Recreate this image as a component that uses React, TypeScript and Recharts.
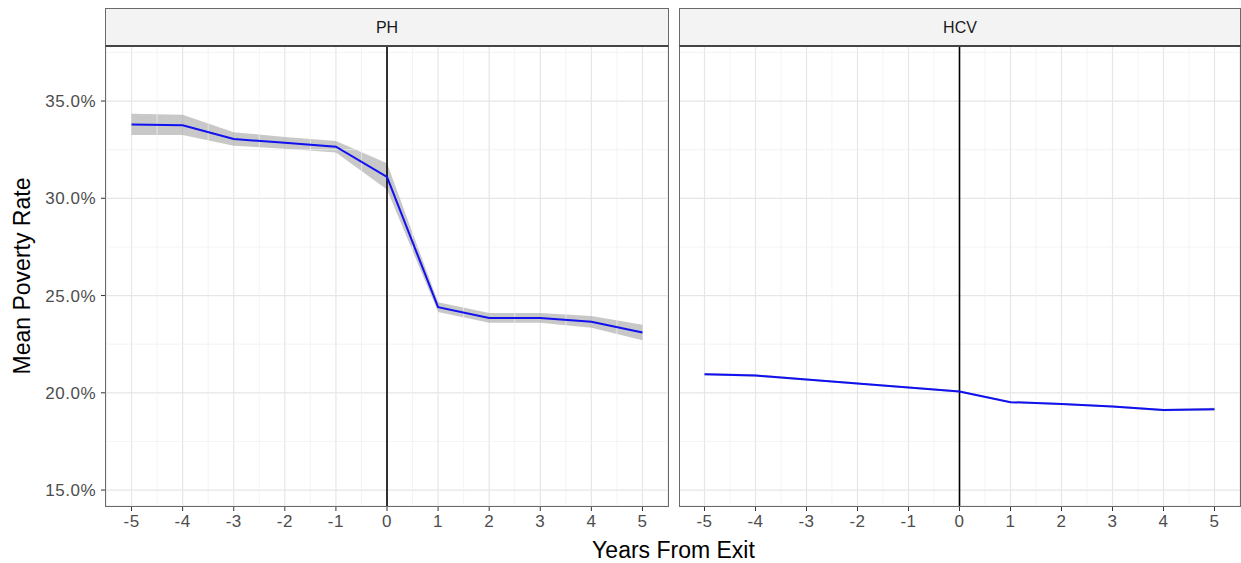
import React from "react";
import {
  ComposedChart,
  Area,
  Line,
  XAxis,
  YAxis,
  CartesianGrid,
  ReferenceLine,
} from "recharts";

const years = [-5, -4, -3, -2, -1, 0, 1, 2, 3, 4, 5];

const phMean = [33.8, 33.75, 33.05, 32.85, 32.65, 31.1, 24.4, 23.85, 23.85, 23.65, 23.1];
const phLower = [33.25, 33.25, 32.7, 32.55, 32.35, 30.45, 24.15, 23.6, 23.6, 23.35, 22.7];
const phUpper = [34.35, 34.3, 33.4, 33.15, 32.95, 31.8, 24.65, 24.1, 24.1, 23.95, 23.5];

const hcvMean = [20.96, 20.89, 20.68, 20.48, 20.27, 20.07, 19.52, 19.42, 19.3, 19.11, 19.16];
const hcvLower = [20.9, 20.83, 20.63, 20.43, 20.22, 20.02, 19.47, 19.37, 19.25, 19.05, 19.09];
const hcvUpper = [21.02, 20.95, 20.73, 20.53, 20.32, 20.12, 19.57, 19.47, 19.35, 19.17, 19.23];

const yTicks = [15, 20, 25, 30, 35];
const xMinor = [-4.5, -3.5, -2.5, -1.5, -0.5, 0.5, 1.5, 2.5, 3.5, 4.5];
const yMinor = [17.5, 22.5, 27.5, 32.5, 37.5];

const panels = ["PH", "HCV"];

const FONT = "'Liberation Sans', Arial, Helvetica, sans-serif";
const TOP = 46;
const CHART_H = 517;
const X_AXIS_H = 57;

function buildRows(mean: number[], lower: number[], upper: number[]) {
  return years.map((x, i) => ({ x, mean: mean[i], band: [lower[i], upper[i]] }));
}

const phRows = buildRows(phMean, phLower, phUpper);
const hcvRows = buildRows(hcvMean, hcvLower, hcvUpper);

const tickStyle = { fill: "#4d4d4d", fontSize: 17, letterSpacing: 0.5 };

function Panel({
  rows,
  showY,
  left,
  width,
}: {
  rows: any[];
  showY: boolean;
  left: number;
  width: number;
}) {
  const yW = showY ? 106 : 0;
  return (
    <div style={{ position: "absolute", left, top: TOP }}>
      <ComposedChart
        width={width}
        height={CHART_H}
        data={rows}
        margin={{ top: 0, right: 0, left: 0, bottom: 0 }}
      >
        <CartesianGrid stroke="#e6e6e6" strokeWidth={1.2} />
        {xMinor.map((v) => (
          <ReferenceLine key={"xm" + v} x={v} stroke="#efefef" strokeWidth={0.7} />
        ))}
        {yMinor.map((v) => (
          <ReferenceLine key={"ym" + v} y={v} stroke="#efefef" strokeWidth={0.7} />
        ))}
        <XAxis
          dataKey="x"
          type="number"
          domain={[-5.5, 5.5]}
          ticks={years}
          axisLine={false}
          tickLine={{ stroke: "#333" }}
          tickSize={5}
          tickMargin={4}
          height={X_AXIS_H}
          tick={tickStyle}
          allowDataOverflow
        />
        <YAxis
          type="number"
          domain={[14.18, 37.83]}
          ticks={yTicks}
          hide={!showY}
          width={yW}
          axisLine={false}
          tickLine={{ stroke: "#333" }}
          tickSize={5}
          tickMargin={5}
          tick={tickStyle}
          tickFormatter={(v: number) => `${v.toFixed(1)}%`}
          allowDataOverflow
        />
        <Area
          type="linear"
          dataKey="band"
          stroke="none"
          fill="#aaaaaa"
          fillOpacity={0.65}
          isAnimationActive={false}
        />
        <ReferenceLine x={0} stroke="#000" strokeWidth={1.6} />
        <Line
          type="linear"
          dataKey="mean"
          stroke="#1010f0"
          strokeWidth={2}
          dot={false}
          isAnimationActive={false}
        />
      </ComposedChart>
    </div>
  );
}

function Frame({ left, width, label }: { left: number; width: number; label: string }) {
  return (
    <>
      <div
        style={{
          position: "absolute",
          left,
          top: 8,
          width: width - 2,
          height: TOP - 8 - 1,
          background: "#f3f3f3",
          border: "1px solid #6a6a6a",
          borderBottom: "none",
          display: "flex",
          alignItems: "center",
          justifyContent: "center",
          fontSize: 16,
          color: "#1a1a1a",
        }}
      >
        {label}
      </div>
      <div
        style={{
          position: "absolute",
          left,
          top: TOP - 1,
          width: width - 2,
          height: CHART_H - X_AXIS_H - 1,
          borderTop: "2px solid #444",
          borderLeft: "1px solid #6a6a6a",
          borderRight: "1px solid #6a6a6a",
          borderBottom: "1px solid #6a6a6a",
          pointerEvents: "none",
        }}
      />
    </>
  );
}

export default function App() {
  return (
    <div
      style={{
        position: "absolute",
        left: 0,
        top: 0,
        width: 1241,
        height: 563,
        background: "#fff",
        fontFamily: FONT,
        overflow: "hidden",
      }}
    >
      <Panel rows={phRows} showY left={0} width={668} />
      <Panel rows={hcvRows} showY={false} left={679} width={561} />
      <Frame left={105} width={564} label={panels[0]} />
      <Frame left={679} width={562} label={panels[1]} />
      <div
        style={{
          position: "absolute",
          left: 0,
          width: 1241,
          top: 537,
          textAlign: "center",
          paddingLeft: 106,
          boxSizing: "border-box",
          fontSize: 23,
          color: "#000",
        }}
      >
        Years From Exit
      </div>
      <div
        style={{
          position: "absolute",
          left: 22,
          top: 276,
          transform: "translate(-50%, -50%) rotate(-90deg)",
          whiteSpace: "nowrap",
          fontSize: 23,
          color: "#000",
        }}
      >
        Mean Poverty Rate
      </div>
    </div>
  );
}
